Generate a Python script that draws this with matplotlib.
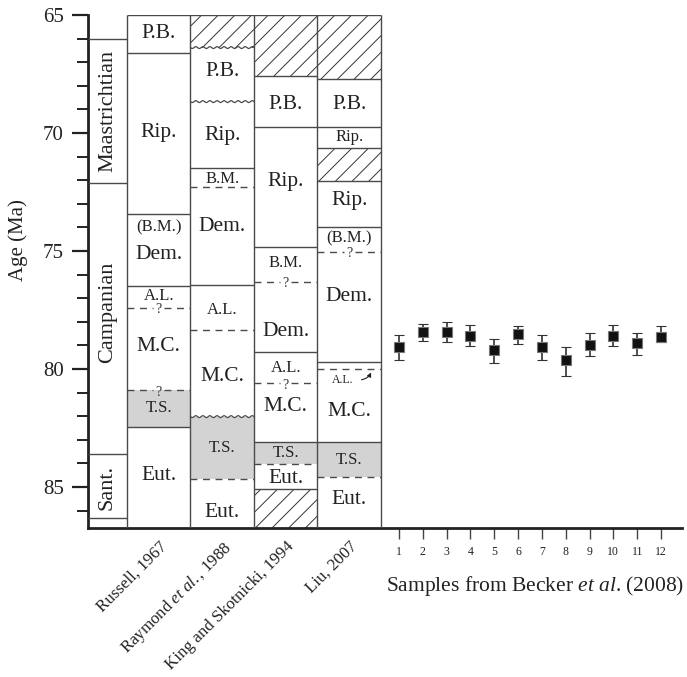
import numpy as np
import matplotlib
matplotlib.use("Agg")
import matplotlib.pyplot as plt
import matplotlib.transforms as mtrans

plt.rcParams["font.family"] = ["Liberation Serif", "DejaVu Serif"]
plt.rcParams["mathtext.fontset"] = "custom"
plt.rcParams["mathtext.rm"] = "Liberation Serif"
plt.rcParams["mathtext.it"] = "Liberation Serif:italic"
plt.rcParams["hatch.linewidth"] = 0.7

# ---- data (ages in Ma) ----
stage_names = ["Maastrichtian", "Campanian", "Sant."]
stage_bounds = [66.0, 72.1, 83.6, 86.3]
stage_label_ages = [69.05, 77.6, 85.0]

ref_names = ["Russell, 1967", r"Raymond $\it{et\ al.}$, 1988",
             "King and Skotnicki, 1994", "Liu, 2007"]

# unit tops per column, fill of each unit, style of the boundary at its top
russell_tops = [65.0, 66.6, 73.45, 76.48, 77.4, 80.9, 82.44]
russell_fill = ["", "", "", "", "", "gray", ""]
russell_line = ["", "solid", "solid", "solid", "q", "q", "solid"]
russell_text = ["P.B.", "Rip.", "(B.M.)", "Dem.", "A.L.", "M.C.", "T.S.", "Eut."]
russell_text_age = [65.8, 70.0, 74.0, 75.15, 76.9, 79.05, 81.67, 84.5]
russell_text_size = ["L", "L", "M", "L", "M", "L", "M", "L"]

raymond_tops = [65.0, 66.38, 68.67, 71.5, 72.27, 76.44, 78.35, 82.02, 84.67]
raymond_fill = ["hatch", "", "", "", "", "", "", "gray", ""]
raymond_line = ["", "wavy", "wavy", "solid", "dash", "solid", "dash", "wavy", "dash"]
raymond_text = ["P.B.", "Rip.", "B.M.", "Dem.", "A.L.", "M.C.", "T.S.", "Eut."]
raymond_text_age = [67.4, 70.1, 71.95, 73.97, 77.5, 80.3, 83.36, 86.1]
raymond_text_size = ["L", "L", "M", "L", "M", "L", "M", "L"]

king_tops = [65.0, 67.58, 69.73, 74.82, 76.3, 79.29, 80.6, 83.08, 84.04, 85.1]
king_fill = ["hatch", "", "", "", "", "", "", "gray", "", "hatch"]
king_line = ["", "solid", "solid", "solid", "q", "solid", "q", "solid", "dash", "solid"]
king_text = ["P.B.", "Rip.", "B.M.", "Dem.", "A.L.", "M.C.", "T.S.", "Eut."]
king_text_age = [68.8, 72.06, 75.52, 78.42, 79.97, 81.6, 83.57, 84.63]
king_text_size = ["L", "L", "M", "L", "M", "L", "M", "L"]

liu_tops = [65.0, 67.73, 69.73, 70.62, 72.02, 73.97, 75.03, 79.72, 79.99, 83.1, 84.56]
liu_fill = ["hatch", "", "", "hatch", "", "", "", "", "", "gray", ""]
liu_line = ["", "solid", "solid", "solid", "solid", "solid", "q", "solid", "dash", "solid", "dash"]
liu_text = ["P.B.", "Rip.", "Rip.", "(B.M.)", "Dem.", "A.L.", "M.C.", "T.S.", "Eut."]
liu_text_age = [68.8, 70.16, 72.84, 74.46, 76.94, 80.47, 81.8, 83.86, 85.55]
liu_text_size = ["L", "M", "L", "M", "L", "S", "L", "M", "L"]

samples = list(range(1, 13))
sample_age = [79.05, 78.45, 78.42, 78.59, 79.2, 78.52, 79.05, 79.6, 78.98, 78.6, 78.9, 78.66]
sample_err_young = [0.47, 0.36, 0.41, 0.44, 0.49, 0.33, 0.47, 0.55, 0.5, 0.45, 0.44, 0.47]
sample_err_old = [0.55, 0.35, 0.45, 0.45, 0.53, 0.42, 0.55, 0.7, 0.45, 0.44, 0.5, 0.2]

# ---- layout ----
AGE_MAX = 86.74
STAGE_W = 0.614
SAMPLE_X0, SAMPLE_DX = 4.898, 0.375
XMAX = 9.354
LINE = "#4a4a4a"
GRAY = "#d3d3d3"
SIZES = {"L": 15.5, "M": 12, "S": 8.5}

fig = plt.figure(figsize=(6.87, 6.77), dpi=100)
ax = fig.add_axes([88 / 687, 1 - 528 / 677, 594 / 687, 513 / 677])
ax.set_xlim(0, XMAX)
ax.set_ylim(AGE_MAX, 65)


def boundary(y, x0, x1, style):
    if style == "solid":
        ax.hlines(y, x0, x1, color=LINE, lw=1.0, zorder=3)
    elif style == "dash":
        ax.hlines(y, x0, x1, color=LINE, lw=1.0, linestyles=(0, (5, 4)), zorder=3)
    elif style == "q":
        xc = (x0 + x1) / 2
        ax.hlines(y, x0, xc - 0.09, color=LINE, lw=1.0, linestyles=(0, (5, 4)), zorder=3)
        ax.hlines(y, xc + 0.09, x1, color=LINE, lw=1.0, linestyles=(0, (5, 4)), zorder=3)
        ax.text(xc, y + 0.08, "?", ha="center", va="center", fontsize=10, color="#333", zorder=4)
    elif style == "wavy":
        xs = np.linspace(x0, x1, 200)
        ax.plot(xs, y + 0.04 * np.sin((xs - x0) * 2 * np.pi * 9), color=LINE, lw=0.9, zorder=3)


# stage column
for y in stage_bounds:
    ax.hlines(y, 0, STAGE_W, color=LINE, lw=1.0, zorder=3)
for name, a in zip(stage_names, stage_label_ages):
    ax.text(STAGE_W / 2, a, name, rotation=90, ha="center", va="center",
            fontsize=16, color="#222")

columns = [
    (russell_tops, russell_fill, russell_line, russell_text, russell_text_age, russell_text_size),
    (raymond_tops, raymond_fill, raymond_line, raymond_text, raymond_text_age, raymond_text_size),
    (king_tops, king_fill, king_line, king_text, king_text_age, king_text_size),
    (liu_tops, liu_fill, liu_line, liu_text, liu_text_age, liu_text_size),
]

for i, (tops, fills, lines, texts, tages, tsizes) in enumerate(columns):
    x0 = STAGE_W + i
    x1 = x0 + 1
    bottoms = tops[1:] + [AGE_MAX]
    for top, bot, f in zip(tops, bottoms, fills):
        if f == "gray":
            ax.bar(x0 + 0.5, bot - top, bottom=top, width=1, color=GRAY, lw=0, zorder=1)
        elif f == "hatch":
            ax.bar(x0 + 0.5, bot - top, bottom=top, width=1, facecolor="white",
                   edgecolor="#333", hatch="//", lw=0, zorder=1)
    for top, st in zip(tops, lines):
        if st:
            boundary(top, x0, x1, st)
    for t, a, s in zip(texts, tages, tsizes):
        dx = -0.1 if s == "S" else 0
        ax.text(x0 + 0.5 + dx, a, t, ha="center", va="center", fontsize=SIZES[s],
                color="#222", zorder=5)

# column frames
ax.vlines([STAGE_W + k for k in range(5)], 65, AGE_MAX, color=LINE, lw=1.0, zorder=3)
ax.hlines(65, STAGE_W, STAGE_W + 4, color=LINE, lw=1.0, zorder=3)

# small arrow for A.L. in Liu column
ax.annotate("", xy=(STAGE_W + 3 + 0.86, liu_tops[8] + 0.05),
            xytext=(STAGE_W + 3 + 0.65, liu_text_age[5]),
            arrowprops=dict(arrowstyle="-|>", color="#222", lw=0.8,
                            connectionstyle="arc3,rad=0.35", mutation_scale=6))

# reference labels under the columns
lab_tr = mtrans.blended_transform_factory(ax.transData, ax.transAxes)
for i, name in enumerate(ref_names):
    ax.text(STAGE_W + i + 0.5, -0.02, name, transform=lab_tr, rotation=45,
            rotation_mode="anchor", ha="right", va="top", fontsize=12.2, color="#222")

# samples
sample_x = [SAMPLE_X0 + SAMPLE_DX * (s - 1) for s in samples]
ax.errorbar(sample_x, sample_age, yerr=[sample_err_young, sample_err_old], fmt="s",
            ms=7, mfc="#111", mec="#777", mew=0.8, ecolor="#333", elinewidth=1.2,
            capsize=3.6, capthick=1.2, zorder=6)

# axes styling
for sp in ("top", "right"):
    ax.spines[sp].set_visible(False)
for sp in ("left", "bottom"):
    ax.spines[sp].set_linewidth(2)
    ax.spines[sp].set_color("#222")

ax.set_yticks([65, 70, 75, 80, 85])
ax.set_yticks(range(65, 87), minor=True)
ax.tick_params(axis="y", which="major", length=11.5, width=1.6, color="#222",
               labelsize=15, pad=6, labelcolor="#222")
ax.tick_params(axis="y", which="minor", length=7.7, width=1.4, color="#222")
ax.set_xticks(sample_x)
ax.set_xticklabels([str(s) for s in samples])
ax.tick_params(axis="x", length=8, width=1.0, color="#444", labelsize=8.5, pad=5,
               labelcolor="#222")

ax.set_ylabel("Age (Ma)", fontsize=15, color="#222")
ax.yaxis.set_label_coords(-0.101, 0.561)
ax.set_xlabel(r"Samples from Becker $\it{et\ al}$. (2008)", fontsize=15.5, color="#222")
ax.xaxis.set_label_coords(0.752, -0.09)

fig.savefig("out.png", dpi=100)
